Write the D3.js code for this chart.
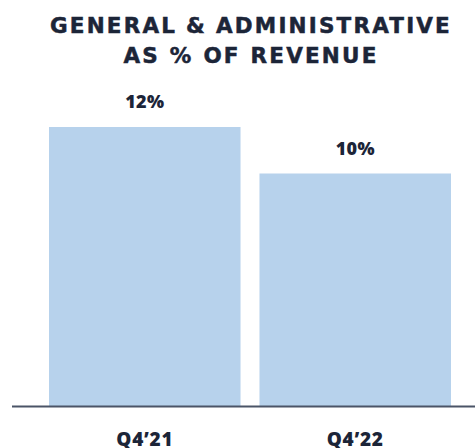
<!DOCTYPE html>
<html>
<head>
<meta charset="utf-8">
<script src="https://cdn.jsdelivr.net/npm/d3@7"></script>
<style>
  html, body { margin: 0; padding: 0; background: #ffffff; }
  svg { display: block; }
  text { font-family: "Open Sans", "Noto Sans", sans-serif; font-weight: 800; fill: #1c2538; }
  text.title { font-family: "DejaVu Sans", sans-serif; font-weight: 700; stroke: #1c2538; stroke-width: 0.5px; }
</style>
</head>
<body>
<div id="chart"></div>
<script>
// G&A expense as a share of revenue, by quarter
const titleLines = ["GENERAL & ADMINISTRATIVE", "AS % OF REVENUE"];
const quarters = ["Q4\u201921", "Q4\u201922"];
const pctOfRevenue = [12, 10];

const width = 475, height = 448;
const baselineY = 406;

const svg = d3.select("#chart").append("svg")
  .attr("width", width)
  .attr("height", height);

const x = d3.scaleBand()
  .domain(quarters)
  .range([49, 451])
  .paddingInner(0.09)
  .paddingOuter(0);

const y = d3.scaleLinear()
  .domain([0, 12])
  .range([baselineY, 127]);

// Spread a text's letters so that it spans the given width
function fitWidth(sel, target) {
  const node = sel.node();
  const natural = node.getComputedTextLength();
  const n = node.textContent.length;
  sel.style("letter-spacing", ((target - natural) / n) + "px");
}

// Title: letter spacing set from one word, word spacing fills the line
const titleSize = "21.5px";
const probe = svg.append("text").attr("class", "title")
  .style("font-size", titleSize).text("ADMINISTRATIVE");
const probeLen = probe.node().getComputedTextLength();
probe.remove();
const titleTracking = (236 - probeLen) / 14;

const titleWidths = [402, 255];
titleLines.forEach((line, i) => {
  const t = svg.append("text")
    .attr("class", "title")
    .attr("x", 251)
    .attr("y", 33 + i * 30)
    .attr("text-anchor", "middle")
    .style("font-size", titleSize)
    .style("letter-spacing", titleTracking + "px")
    .text(line);
  const len = t.node().getComputedTextLength();
  const gaps = line.split(" ").length - 1;
  t.style("word-spacing", ((titleWidths[i] - len) / gaps) + "px");
});

// Bars
svg.selectAll("rect.bar")
  .data(quarters)
  .join("rect")
  .attr("class", "bar")
  .attr("x", d => x(d))
  .attr("width", x.bandwidth())
  .attr("y", (d, i) => y(pctOfRevenue[i]))
  .attr("height", (d, i) => baselineY - y(pctOfRevenue[i]))
  .attr("fill", "#b7d2ec");

// Value labels above the bars
svg.selectAll("text.value")
  .data(quarters)
  .join("text")
  .attr("class", "value")
  .attr("x", d => x(d) + x.bandwidth() / 2)
  .attr("y", (d, i) => y(pctOfRevenue[i]) - 19)
  .attr("text-anchor", "middle")
  .style("font-size", "18px")
  .text((d, i) => d3.format("d")(pctOfRevenue[i]) + "%")
  .each(function () { fitWidth(d3.select(this), 39); });

// Baseline
svg.append("line")
  .attr("x1", 12).attr("x2", width)
  .attr("y1", baselineY + 0.5).attr("y2", baselineY + 0.5)
  .attr("stroke", "#4b5467")
  .attr("stroke-width", 2);

// Category axis
const axis = svg.append("g")
  .attr("transform", `translate(0,${baselineY})`)
  .call(d3.axisBottom(x).tickSize(0).tickPadding(0));
axis.select(".domain").remove();
axis.selectAll("text")
  .attr("y", 40)
  .attr("dy", null)
  .style("font-family", "'Open Sans', 'Noto Sans', sans-serif")
  .style("font-size", "19px")
  .style("font-weight", 800)
  .style("fill", "#1c2538")
  .each(function () { fitWidth(d3.select(this), 57); });
</script>
</body>
</html>
